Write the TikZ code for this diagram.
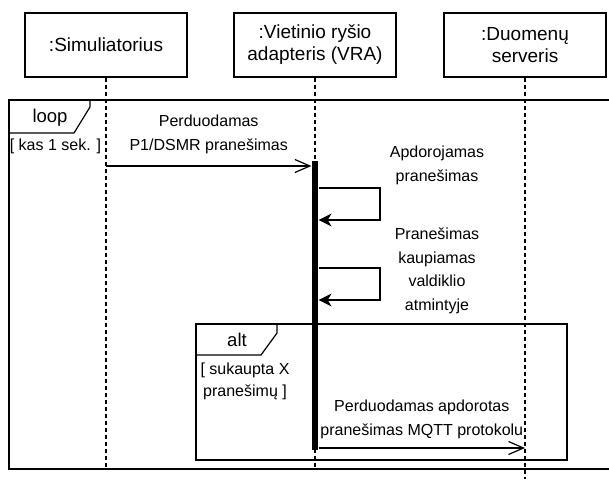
\documentclass[tikz,border=0pt]{standalone}
\usepackage{fontspec}
\setmainfont{Liberation Sans}
\usetikzlibrary{arrows.meta}
\tikzset{
  msg/.style={-{Straight Barb[length=15pt,width=13pt]}},
  selfmsg/.style={-{Stealth[length=13pt,width=13pt,inset=4pt]}}
}

\begin{document}
\begin{tikzpicture}[x=1pt,y=-1pt,line width=1.2pt,
    main/.style = {draw, minimum width=162pt, minimum height=64pt, align=center, font=\fontsize{19}{22}\selectfont},
    life/.style = {dash pattern=on 4pt off 3pt},
    lbl/.style = {align=center, font=\fontsize{16}{24}\selectfont},
    frm/.style = {font=\fontsize{18.5}{22}\selectfont}]
      \useasboundingbox (0,0) rectangle (609,479);

      \node[main] (1) at (106,45) {:Simuliatorius};
      \node[main] (2) at (315,45) {:Vietinio ryšio\\adapteris (VRA)};
      \node[main] (3) at (525,45) {:Duomenų\\serveris};

      % loop frame
      \draw (609,100) -- (9,100) -- (9,469) -- (609,469);
      \draw (9,133) -- (74,133) -- (90,107) -- (90,100);
      \node[frm] (loop) at (50,118) {loop};
      \node[lbl] (kas) at (55.5,146) {[ kas 1 sek. ]};

      % alt frame
      \draw (196,324) rectangle (567,460);
      \draw (196,355) -- (261,355) -- (277,333) -- (277,324);
      \node[frm] (alt) at (237,340) {alt};
      \node[lbl, font=\fontsize{16}{22}\selectfont] (cond) at (245,381) {[ sukaupta X\\pranešimų ]};

      % lifelines
      \draw[life] (1) -- (1 |- 0,469);
      \draw[life] (2) -- (2 |- 0,469);
      \draw[life] (3) -- (3 |- 0,479);

      \node[fill, inner sep=0pt, minimum width=6pt, minimum height=289pt] (bar) at (315,305.5) {};

      \coordinate (m1) at (106,166);
      \coordinate (m3) at (315,448);

      \path
      (m1) edge[msg] node[lbl, above=8pt]{Perduodamas\\P1/DSMR pranešimas} (bar.west |- m1)
      (bar.east |- m3) edge[msg] node[lbl, above=5pt]{Perduodamas apdorotas\\pranešimas MQTT protokolu} (3 |- m3)
      ;

      \draw[selfmsg] (bar.east |- 0,188) -- (380,188) -- (380,220) -- (bar.east |- 0,220);
      \draw[selfmsg] (bar.east |- 0,268) -- (380,268) -- (380,300) -- (bar.east |- 0,300);
      \node[lbl] (apd) at (437,165) {Apdorojamas\\pranešimas};
      \node[lbl, font=\fontsize{16}{23.5}\selectfont] (kaup) at (437,271) {Pranešimas\\kaupiamas\\valdiklio\\atmintyje};
    \end{tikzpicture}
\end{document}
